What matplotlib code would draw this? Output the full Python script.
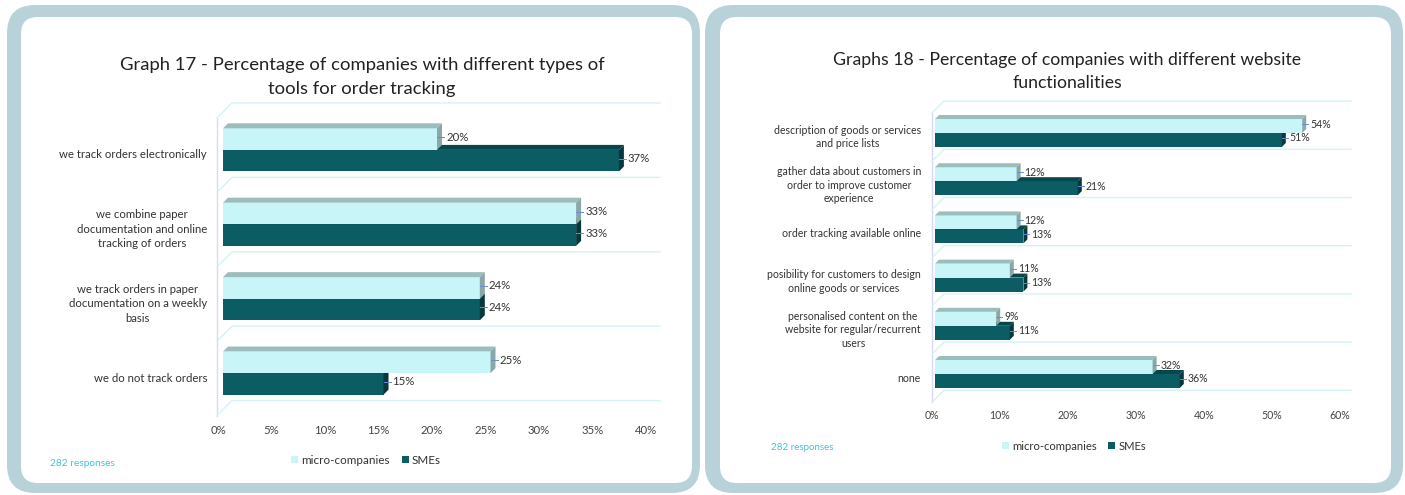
import matplotlib
matplotlib.use("Agg")
import matplotlib.pyplot as plt
from matplotlib.patches import FancyBboxPatch, Polygon, Patch
from matplotlib.lines import Line2D
import numpy as np

plt.rcParams["font.family"] = ["Lato", "DejaVu Sans"]

# ---- data -------------------------------------------------------------
cats17 = [
    "we track orders electronically",
    "we combine paper\ndocumentation and online\ntracking of orders",
    "we track orders in paper\ndocumentation on a weekly\nbasis",
    "we do not track orders",
]
micro17 = [20, 33, 24, 25]
sme17 = [37, 33, 24, 15]
ticks17 = [0, 5, 10, 15, 20, 25, 30, 35, 40]

cats18 = [
    "description of goods or services\nand price lists",
    "gather data about customers in\norder to improve customer\nexperience",
    "order tracking available online",
    "posibility for customers to design\nonline goods or services",
    "personalised content on the\nwebsite for regular/recurrent\nusers",
    "none",
]
micro18 = [54, 12, 12, 11, 9, 32]
sme18 = [51, 21, 13, 13, 11, 36]
ticks18 = [0, 10, 20, 30, 40, 50, 60]

series_names = ["micro-companies", "SMEs"]
title17 = ["Graph 17 - Percentage of companies with different types of",
           "tools for order tracking"]
title18 = ["Graphs 18 - Percentage of companies with different website",
           "functionalities"]
note_text = "282 responses"

# ---- styling ----------------------------------------------------------
W, H = 1405, 495
DPI = 100
MICRO = dict(front="#c8f5f7", top="#9dbdbd", side="#8aa8a8")
SME = dict(front="#0b5c63", top="#07464b", side="#05383c")
TEXT = "#333333"
GRID = "#d6f2f6"
WALL = "#d3dcf2"
LEADER = "#6a8bd6"
FRAME = "#b9d2d9"
NOTE = "#3ec6d8"

fig = plt.figure(figsize=(W / DPI, H / DPI), dpi=DPI)
fig.patch.set_facecolor("white")


def fx(px):
    return px / W


def fy(py):
    return 1 - py / H


def rect(x0, y0, x1, y1):
    return [fx(x0), fy(y1), (x1 - x0) / W, (y1 - y0) / H]


def panel(x0, y0, x1, y1, inner):
    outer = FancyBboxPatch((fx(x0), fy(y1)), (x1 - x0) / W, (y1 - y0) / H,
                           boxstyle="round,pad=0,rounding_size=0.02",
                           transform=fig.transFigure, facecolor=FRAME,
                           edgecolor="none", zorder=-2, mutation_aspect=W / H)
    fig.patches.append(outer)
    ix0, iy0, ix1, iy1 = inner
    inn = FancyBboxPatch((fx(ix0), fy(iy1)), (ix1 - ix0) / W, (iy1 - iy0) / H,
                         boxstyle="round,pad=0,rounding_size=0.012",
                         transform=fig.transFigure, facecolor="white",
                         edgecolor="none", zorder=-1, mutation_aspect=W / H)
    fig.patches.append(inn)


panel(7, 5, 700, 493, (21, 17, 692, 483))
panel(705, 5, 1403, 493, (720, 17, 1391, 483))


def px_delta(ax, dx, dy):
    """Convert a pixel offset (right, up) into data units of ax."""
    p0 = ax.transData.transform((0, 0))
    q = ax.transData.inverted().transform(p0 + np.array([dx, dy]))
    return q[0], q[1]


def bar3d(ax, y, h, v, col, depth):
    ddx, ddy = px_delta(ax, depth, depth)
    ytop = y - h / 2
    ybot = y + h / 2
    ax.barh(y, v, height=h, color=col["front"], linewidth=0, zorder=3)
    ax.add_patch(Polygon([(0, ytop), (v, ytop), (v + ddx, ytop + ddy),
                          (ddx, ytop + ddy)], closed=True,
                         facecolor=col["top"], edgecolor="none", zorder=3))
    ax.add_patch(Polygon([(v, ytop), (v, ybot), (v + ddx, ybot + ddy),
                          (v + ddx, ytop + ddy)], closed=True,
                         facecolor=col["side"], edgecolor="none", zorder=3))


def chart(ax, cats, micro, sme, ticks, xmax, depth, bh, wall_dx, slant,
          grid_right, fs_cat, fs_val, fs_tick, label_pad, tick_pad,
          label_drop, tick_shift, lsp):
    n = len(cats)
    ax.set_xlim(0, xmax)
    ax.set_ylim(n - 0.5, -0.5)
    ax.axis("off")
    ax.set_zorder(2)
    ypos = np.arange(n)

    # back wall: left edge and horizontal gridlines
    wdx, _ = px_delta(ax, wall_dx, 0)
    sdx, sdy = px_delta(ax, slant, slant)
    _, down = px_delta(ax, 0, -slant * 0.35)
    x_right, _ = px_delta(ax, grid_right, 0)
    bounds = np.arange(n + 1) - 0.5
    ax.add_line(Line2D([wdx, wdx], [bounds[0] + down, bounds[-1] + down],
                       color=WALL, lw=1.0, clip_on=False, zorder=1))
    for b in bounds:
        ax.add_line(Line2D([wdx, wdx + sdx, xmax + x_right],
                           [b + down, b + down + sdy, b + down + sdy],
                           color=GRID, lw=1.0, clip_on=False, zorder=1))

    # bars
    for i in range(n):
        bar3d(ax, ypos[i] + bh / 2, bh, sme[i], SME, depth)
        bar3d(ax, ypos[i] - bh / 2, bh, micro[i], MICRO, depth)

    # value labels with short leader ticks
    lead, _ = px_delta(ax, depth + 2, 0)
    gap, _ = px_delta(ax, depth + 4, 0)
    _, lift = px_delta(ax, 0, 2)
    for i in range(n):
        for v, yc in ((micro[i], ypos[i] - bh / 2), (sme[i], ypos[i] + bh / 2)):
            ax.add_line(Line2D([v, v + lead], [yc + lift, yc + lift],
                               color=LEADER, lw=0.7, zorder=4, clip_on=False))
            ax.text(v + gap, yc + lift, f"{v}%", ha="left", va="center",
                    fontsize=fs_val, color=TEXT, zorder=5, clip_on=False)

    # category labels
    _, drop = px_delta(ax, 0, -label_drop)
    cx, _ = px_delta(ax, -label_pad, 0)
    for i, c in enumerate(cats):
        ax.text(cx, ypos[i] + drop, c, ha="right", va="center",
                multialignment="center", fontsize=fs_cat, color=TEXT,
                linespacing=lsp, clip_on=False)

    # x tick labels
    tx, _ = px_delta(ax, -tick_shift, 0)
    _, ty = px_delta(ax, 0, -tick_pad)
    for t in ticks:
        ax.text(t + tx, n - 0.5 + ty, f"{t}%", ha="center", va="center",
                fontsize=fs_tick, color="#444444", clip_on=False)


# Graph 17
ax1 = fig.add_axes(rect(223, 112.7, 651, 410.3))
ax1.set_xlim(0, 40)
ax1.set_ylim(3.5, -0.5)
chart(ax1, cats17, micro17, sme17, ticks17, 40, depth=5, bh=0.29,
      wall_dx=-6, slant=15, grid_right=9, fs_cat=8.2, fs_val=8.2,
      fs_tick=8.2, label_pad=16, tick_pad=20, label_drop=5, tick_shift=5,
      lsp=1.4)

# Graph 18
ax2 = fig.add_axes(rect(935, 108.9, 1343, 398.1))
ax2.set_xlim(0, 60)
ax2.set_ylim(5.5, -0.5)
chart(ax2, cats18, micro18, sme18, ticks18, 60, depth=4, bh=0.29,
      wall_dx=-3, slant=12, grid_right=8, fs_cat=7.6, fs_val=7.6,
      fs_tick=7.6, label_pad=14, tick_pad=17, label_drop=4, tick_shift=3,
      lsp=1.3)

# titles
for txt, yy in zip(title17, (65, 89)):
    fig.text(fx(362), fy(yy), txt, ha="center", va="center", fontsize=13.3,
             color="#222222")
for txt, yy in zip(title18, (60, 83)):
    fig.text(fx(1067), fy(yy), txt, ha="center", va="center", fontsize=12.7,
             color="#222222")

# legends
handles = [Patch(facecolor=MICRO["front"], edgecolor="none"),
           Patch(facecolor=SME["front"], edgecolor="none")]
for cx_, cy_, fs in ((366, 460, 8.4), (1074, 446, 8.1)):
    fig.legend(handles, series_names, loc="center",
               bbox_to_anchor=(fx(cx_), fy(cy_)), ncol=2, frameon=False,
               fontsize=fs, handlelength=0.6, handleheight=0.6,
               handletextpad=0.3, columnspacing=1.0, labelcolor=TEXT)

# response counts
fig.text(fx(50), fy(463), note_text, ha="left", va="center", fontsize=7.3,
         color=NOTE)
fig.text(fx(771), fy(448), note_text, ha="left", va="center", fontsize=7.0,
         color=NOTE)

fig.savefig("out.png", dpi=DPI)
